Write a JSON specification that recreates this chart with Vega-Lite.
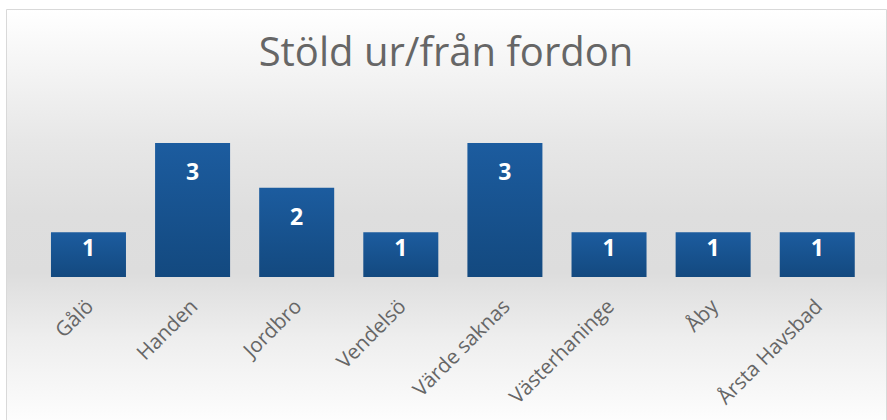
{
  "$schema": "https://vega.github.io/schema/vega-lite/v6.json",
  "width": 887,
  "height": 420,
  "autosize": {"type": "fit", "contains": "padding"},
  "padding": {"left": 6, "top": 9, "right": 1, "bottom": 0},
  "background": "#ffffff",
  "data": {"values": [
    {"omrade": "Gålö", "antal": 1},
    {"omrade": "Handen", "antal": 3},
    {"omrade": "Jordbro", "antal": 2},
    {"omrade": "Vendelsö", "antal": 1},
    {"omrade": "Värde saknas", "antal": 3},
    {"omrade": "Västerhaninge", "antal": 1},
    {"omrade": "Åby", "antal": 1},
    {"omrade": "Årsta Havsbad", "antal": 1}
  ]},
  "title": {
    "text": "Stöld ur/från fordon",
    "font": "Open Sans",
    "fontSize": 40,
    "fontWeight": "normal",
    "color": "#666666",
    "frame": "group",
    "anchor": "middle",
    "baseline": "alphabetic",
    "offset": -97
  },
  "config": {
    "view": {
      "stroke": "#d9d9d9",
      "strokeWidth": 1,
      "fill": {
        "gradient": "linear",
        "x1": 0, "y1": 0, "x2": 0, "y2": 1,
        "stops": [
          {"offset": 0, "color": "#ffffff"},
          {"offset": 0.32, "color": "#e7e7e7"},
          {"offset": 0.5, "color": "#dedede"},
          {"offset": 0.64, "color": "#dddddd"},
          {"offset": 0.8, "color": "#eeeeee"},
          {"offset": 1, "color": "#fdfdfd"}
        ]
      }
    }
  },
  "encoding": {
    "x": {
      "field": "omrade",
      "type": "nominal",
      "sort": null,
      "scale": {"paddingInner": 0.2795, "paddingOuter": 0.366, "align": 0.59},
      "axis": {
        "title": null,
        "orient": "bottom",
        "offset": -124,
        "domain": false,
        "ticks": false,
        "labelAngle": -45,
        "labelAlign": "right",
        "labelBaseline": "top",
        "labelPadding": 0,
        "labelOffset": -5,
        "labelFont": "Open Sans",
        "labelFontSize": 20.5,
        "labelColor": "#666666",
        "labelOverlap": false
      }
    }
  },
  "layer": [
    {
      "mark": {
        "type": "bar",
        "fill": {
          "gradient": "linear",
          "x1": 0, "y1": 0, "x2": 0, "y2": 1,
          "stops": [
            {"offset": 0, "color": "#1c5c9f"},
            {"offset": 1, "color": "#13497f"}
          ]
        }
      },
      "encoding": {
        "y": {
          "field": "antal",
          "type": "quantitative",
          "scale": {"domain": [-3.2, 6], "nice": false, "zero": false},
          "axis": null
        },
        "y2": {"datum": 0}
      }
    },
    {
      "transform": [{"filter": "datum.antal >= 2"}],
      "mark": {"type": "text", "color": "#ffffff", "font": "Open Sans", "fontWeight": "bold", "fontSize": 23, "baseline": "middle", "dy": 30},
      "encoding": {
        "y": {"field": "antal", "type": "quantitative"},
        "text": {"field": "antal", "type": "quantitative"}
      }
    },
    {
      "transform": [{"filter": "datum.antal < 2"}],
      "mark": {"type": "text", "color": "#ffffff", "font": "Open Sans", "fontWeight": "bold", "fontSize": 23, "baseline": "middle", "dy": 17},
      "encoding": {
        "y": {"field": "antal", "type": "quantitative"},
        "text": {"field": "antal", "type": "quantitative"}
      }
    }
  ]
}
